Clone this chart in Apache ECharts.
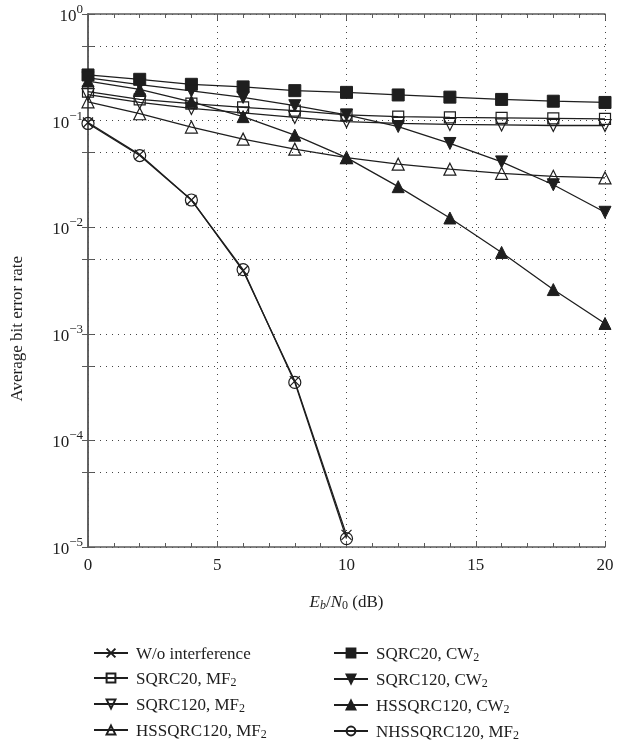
<!DOCTYPE html>
<html>
<head>
<meta charset="utf-8">
<script src="https://cdn.jsdelivr.net/npm/echarts@6/dist/echarts.min.js"></script>
<style>html,body{margin:0;padding:0;background:#fff}#c{width:617px;height:746px}</style>
</head>
<body>
<div id="c"></div>
<script>
// ---- data ----
var snrFull = [0, 2, 4, 6, 8, 10, 12, 14, 16, 18, 20];
var snrShort = [0, 2, 4, 6, 8, 10];
var woInterference = [0.096, 0.048, 0.018, 0.0039, 3.6e-4, 1.3e-5];
var nhssqrc120MF2 = [0.094, 0.047, 0.018, 0.0040, 3.5e-4, 1.2e-5];
var sqrc20CW2 = [0.268, 0.244, 0.219, 0.207, 0.191, 0.184, 0.174, 0.166, 0.158, 0.152, 0.148];
var sqrc20MF2 = [0.187, 0.158, 0.144, 0.133, 0.124, 0.113, 0.109, 0.107, 0.106, 0.105, 0.104];
var sqrc120MF2 = [0.175, 0.148, 0.130, 0.118, 0.107, 0.098, 0.094, 0.092, 0.091, 0.090, 0.090];
var hssqrc120MF2 = [0.150, 0.116, 0.087, 0.067, 0.054, 0.045, 0.039, 0.035, 0.032, 0.030, 0.029];
var sqrc120CW2 = [0.252, 0.218, 0.190, 0.165, 0.138, 0.113, 0.088, 0.061, 0.041, 0.025, 0.0138];
var hssqrc120CW2 = [0.235, 0.196, 0.150, 0.109, 0.073, 0.045, 0.024, 0.0122, 0.0058, 0.0026, 0.00125];
var decadeTicks = [1, 0.1, 0.01, 0.001, 0.0001, 0.00001];
var halfTicks = [0.5, 0.05, 0.005, 0.0005, 0.00005];
var decadeExp = {'1': '0', '0.1': '−1', '0.01': '−2', '0.001': '−3', '0.0001': '−4', '0.00001': '−5'};
var legendLeft = ['W/o interference', 'SQRC20, MF2', 'SQRC120, MF2', 'HSSQRC120, MF2'];
var legendRight = ['SQRC20, CW2', 'SQRC120, CW2', 'HSSQRC120, CW2', 'NHSSQRC120, MF2'];

function pairs(xs, ys) { return xs.map(function (x, i) { return [x, ys[i]]; }); }

var FONT = 'Liberation Serif';
var INK = '#1e1e1e';
var AX = '#5a5a5a';
var allTicks = decadeTicks.concat(halfTicks);

function mkSeries(name, xs, ys, symbol, size, filled, rotate, extra) {
  var s = {
    name: name, type: 'line', data: pairs(xs, ys),
    symbol: symbol, symbolSize: size, symbolRotate: rotate || 0,
    showSymbol: true, animation: false,
    lineStyle: {color: INK, width: 1.3},
    itemStyle: filled ? {color: INK, borderColor: INK, borderWidth: 1}
                      : {color: 'rgba(0,0,0,0)', borderColor: INK, borderWidth: 1.2},
    emphasis: {disabled: true}
  };
  if (extra) for (var k in extra) s[k] = extra[k];
  return s;
}

var legendText = {
  fontFamily: FONT, fontSize: 17, color: INK, lineHeight: 20, padding: [0, 0, 0, 3],
  rich: {
    t: {fontFamily: FONT, fontSize: 17, color: INK, lineHeight: 20, verticalAlign: 'bottom'},
    s: {fontFamily: FONT, fontSize: 12, color: INK, lineHeight: 12, verticalAlign: 'bottom', padding: [0, 0, -1, 0]}
  }
};
function legendFmt(name) {
  var m = name.match(/^(.*(?:MF|CW))2$/);
  if (m) return '{t|' + m[1] + '}{s|2}';
  return '{t|' + name + '}';
}

var chart = echarts.init(document.getElementById('c'), null, {renderer: 'canvas'});
chart.setOption({
  animation: false,
  backgroundColor: '#fff',
  grid: {left: 88, right: 12, top: 14, bottom: 199, containLabel: false},
  legend: [
    {data: legendLeft, orient: 'vertical', left: 88, top: 638, width: 230, height: 110,
     itemWidth: 34, itemHeight: 11,
     itemGap: 5, formatter: legendFmt, textStyle: legendText, selectedMode: false},
    {data: legendRight, orient: 'vertical', left: 328, top: 638, width: 270, height: 110,
     itemWidth: 34, itemHeight: 11,
     itemGap: 5, formatter: legendFmt, textStyle: legendText, selectedMode: false}
  ],
  xAxis: [
    {type: 'value', min: 0, max: 20, interval: 5, position: 'bottom',
     axisLine: {show: true, lineStyle: {color: AX, width: 1.5}},
     axisTick: {show: true, inside: true, length: 6, lineStyle: {color: AX}},
     minorTick: {show: true, splitNumber: 5, length: 4, lineStyle: {color: AX}},
     splitLine: {show: true, lineStyle: {color: '#444', type: [1, 5], width: 1}},
     axisLabel: {fontFamily: FONT, fontSize: 17, color: INK, margin: 10},
     name: '{i|E}{is|b}{r|/}{i|N}{s|0}{r| (dB)}', nameLocation: 'middle', nameGap: 44,
     nameTextStyle: {
       rich: {
         i: {fontFamily: FONT, fontStyle: 'italic', fontSize: 17, color: INK, lineHeight: 20, verticalAlign: 'bottom'},
         r: {fontFamily: FONT, fontSize: 17, color: INK, lineHeight: 20, verticalAlign: 'bottom'},
         is: {fontFamily: FONT, fontStyle: 'italic', fontSize: 12, color: INK, lineHeight: 12, verticalAlign: 'bottom', padding: [0, 0, -1, 0]},
         s: {fontFamily: FONT, fontSize: 12, color: INK, lineHeight: 12, verticalAlign: 'bottom', padding: [0, 0, -1, 0]}
       }
     }},
    {type: 'value', min: 0, max: 20, interval: 5, position: 'top',
     axisLine: {show: true, lineStyle: {color: AX, width: 1.5}},
     axisTick: {show: true, inside: true, length: 6, lineStyle: {color: AX}},
     minorTick: {show: true, splitNumber: 5, length: 4, lineStyle: {color: AX}},
     splitLine: {show: false}, axisLabel: {show: false}}
  ],
  yAxis: [
    {type: 'log', logBase: 10, min: 1e-5, max: 1, position: 'left',
     axisLine: {show: true, lineStyle: {color: AX, width: 1.5}},
     axisTick: {show: true, inside: true, length: 6, customValues: allTicks, lineStyle: {color: AX}},
     splitLine: {show: true, lineStyle: {color: '#444', type: [1, 5], width: 1}},
     axisLabel: {
       margin: 5, customValues: decadeTicks,
       formatter: function (v) {
         var key = String(+v.toPrecision(3));
         var e = decadeExp[key];
         if (e === undefined) return '';
         return '{b|10}{e|' + e + '}';
       },
       rich: {
         b: {fontFamily: FONT, fontSize: 17, color: INK, lineHeight: 22, verticalAlign: 'bottom'},
         e: {fontFamily: FONT, fontSize: 13, color: INK, lineHeight: 13, verticalAlign: 'top'}
       }
     }},
    {type: 'log', logBase: 10, min: 1e-5, max: 1, position: 'right',
     axisLine: {show: true, lineStyle: {color: AX, width: 1.5}},
     axisTick: {show: true, inside: true, length: 6, customValues: allTicks, lineStyle: {color: AX}},
     splitLine: {show: false}, axisLabel: {show: false}}
  ],
  graphic: [
    {type: 'text', left: 9, top: 256, rotation: Math.PI / 2, origin: [0, 0],
     style: {text: 'Average bit error rate', font: '17px "Liberation Serif"', fill: INK,
             textAlign: 'center', textVerticalAlign: 'middle'}}
  ],
  series: [
    mkSeries('W/o interference', snrShort, woInterference, 'path://M0,0L10,10M10,0L0,10', 10, false, 0, {
      markLine: {
        silent: true, symbol: ['none', 'none'], label: {show: false}, animation: false,
        lineStyle: {color: '#444', type: [1, 5], width: 1},
        data: halfTicks.map(function (v) { return {yAxis: v}; })
      }
    }),
    mkSeries('SQRC20, MF2', snrFull, sqrc20MF2, 'rect', 11, false),
    mkSeries('SQRC120, MF2', snrFull, sqrc120MF2, 'triangle', 12, false, 180),
    mkSeries('HSSQRC120, MF2', snrFull, hssqrc120MF2, 'triangle', 12, false),
    mkSeries('SQRC20, CW2', snrFull, sqrc20CW2, 'rect', 12, true),
    mkSeries('SQRC120, CW2', snrFull, sqrc120CW2, 'triangle', 12, true, 180),
    mkSeries('HSSQRC120, CW2', snrFull, hssqrc120CW2, 'triangle', 12, true),
    mkSeries('NHSSQRC120, MF2', snrShort, nhssqrc120MF2, 'circle', 12, false)
  ]
});
</script>
</body>
</html>
